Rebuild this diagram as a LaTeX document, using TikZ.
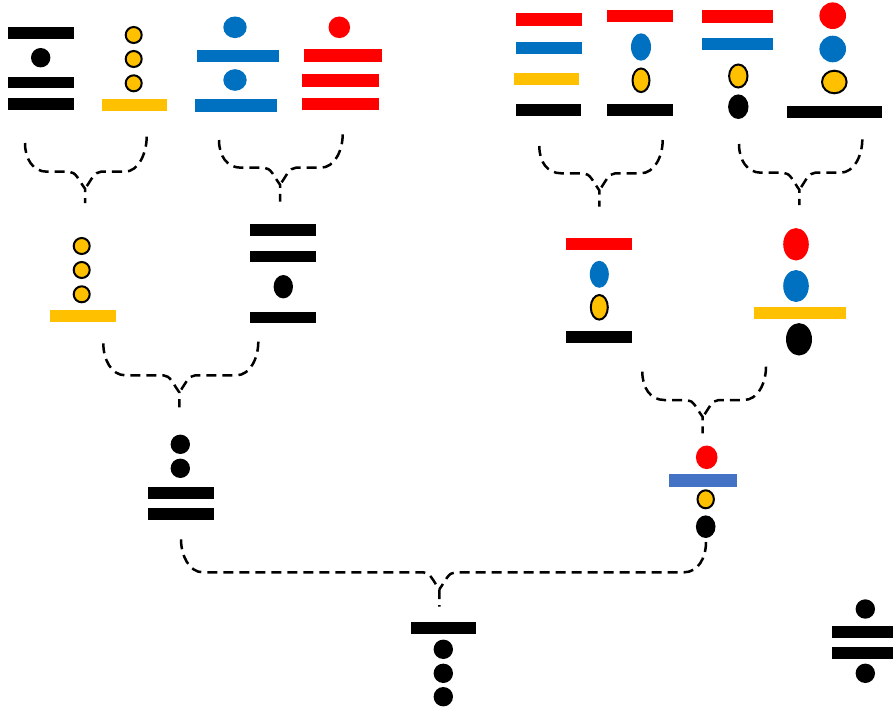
\documentclass[tikz,border=0pt]{standalone}
\usetikzlibrary{calc}
\definecolor{cred}{HTML}{FF0000}
\definecolor{cblue}{HTML}{0070C0}
\definecolor{cyel}{HTML}{FFC000}
\definecolor{clblue}{HTML}{4472C4}
\tikzset{
  ydot/.style={fill=cyel, draw=black, line width=2pt},
  conn/.style={draw=black, line width=2.5pt, dash pattern=on 10pt off 6pt},
}
% #1 left, #2 right, #3 child, #4 x left, #5 x right, #6 x tip, #7 y horizontal
\newcommand\brk[7]{%
  \draw[conn] (#1) .. controls +(0,16) and +(-14,0) .. (#4+22,#7) -- (#6-16,#7)
     .. controls +(7,0) and +(-6,-8) .. (#6,#7+17) -- (#3);
  \draw[conn] (#2) .. controls +(0,16) and +(14,0) .. (#5-22,#7) -- (#6+16,#7)
     .. controls +(-7,0) and +(6,-8) .. (#6,#7+17);
}
\begin{document}
\begin{tikzpicture}[x=1pt,y=-1pt]
\useasboundingbox (0,0) rectangle (893,709);
\clip (0,0) rectangle (893,709);
% ---------- level 1 ----------
% A
\fill (8,27) rectangle (74,39);
\fill (40.7,57.7) circle (9.7);
\fill (8,76.7) rectangle (74,88.3);
\fill (8,98.3) rectangle (74,110);
\coordinate (A-out) at (25,143);
% B
\filldraw[ydot] (133.7,35) circle (8);
\filldraw[ydot] (133.7,59) circle (8);
\filldraw[ydot] (133.7,83.3) circle (8);
\fill[cyel] (101.7,99.3) rectangle (166.7,111);
\coordinate (B-out) at (146.7,136.7);
% C
\fill[cblue] (235,27.3) ellipse (11.7 and 10.8);
\fill[cblue] (197.3,50) rectangle (279.3,62.3);
\fill[cblue] (235,80) ellipse (11.7 and 10.8);
\fill[cblue] (195,99.3) rectangle (276.7,111.7);
\coordinate (C-out) at (219,140);
% D
\fill[cred] (339.3,27.3) circle (10.8);
\fill[cred] (304,49.3) rectangle (381.7,62);
\fill[cred] (301.7,74.3) rectangle (379,86.7);
\fill[cred] (301.7,97.7) rectangle (379,110);
\coordinate (D-out) at (342.7,134.3);
% E
\fill[cred] (516,13.3) rectangle (581.7,25.7);
\fill[cblue] (516,42.3) rectangle (581.7,54.3);
\fill[cyel] (514,72.7) rectangle (579.3,85);
\fill (515.7,104) rectangle (581,116);
\coordinate (E-out) at (539.3,146);
% F
\fill[cred] (607.3,10) rectangle (672.7,22.3);
\fill[cblue] (641,47) ellipse (10 and 13.7);
\filldraw[ydot] (641,80.3) ellipse (8.5 and 11.8);
\fill (607.3,104) rectangle (672.7,116);
\coordinate (F-out) at (662.7,140);
% G
\fill[cred] (702,10) rectangle (773.3,22.7);
\fill[cblue] (702,37.7) rectangle (773.3,50);
\filldraw[ydot] (738.3,76) ellipse (9.2 and 11.5);
\fill (738.3,106.7) ellipse (10.2 and 12.3);
\coordinate (G-out) at (739,144);
% H
\fill[cred] (832.7,15.7) circle (13.3);
\fill[cblue] (832.7,49) circle (13.3);
\filldraw[ydot] (834.3,82) ellipse (12.3 and 11.3);
\fill (786.7,105.7) rectangle (881.7,117.7);
\coordinate (H-out) at (862.3,139.3);
% ---------- level 2 ----------
% I
\filldraw[ydot] (81.7,246) circle (8);
\filldraw[ydot] (81.7,270) circle (8);
\filldraw[ydot] (81.7,294.3) circle (8);
\fill[cyel] (50,310) rectangle (115.7,321.7);
\coordinate (I-in) at (85,203);
\coordinate (I-out) at (103.3,343.3);
% J
\fill (250,224) rectangle (315.7,235.7);
\fill (250,250.7) rectangle (315.7,262.3);
\fill (283.3,286.7) ellipse (9.7 and 11.7);
\fill (250,311.7) rectangle (315.7,323.3);
\coordinate (J-in) at (280,201.7);
\coordinate (J-out) at (258.3,341.7);
% L
\fill[cred] (566,237.7) rectangle (631.7,250);
\fill[cblue] (599.3,274.3) ellipse (9.5 and 13.5);
\filldraw[ydot] (599.3,307.3) ellipse (8.5 and 12.3);
\fill (566,331) rectangle (631.7,343.3);
\coordinate (L-in) at (599.3,206.7);
\coordinate (L-out) at (642.3,371.7);
% M
\fill[cred] (796,244.3) ellipse (12.8 and 16.2);
\fill[cblue] (796,286) ellipse (12.8 and 16);
\fill[cyel] (754,307.3) rectangle (845.7,319.3);
\fill (799,339.3) ellipse (13 and 16.2);
\coordinate (M-in) at (799.3,205);
\coordinate (M-out) at (766,366.7);
% ---------- level 3 ----------
% K
\fill (180.3,444.3) circle (9.7);
\fill (180.3,468.3) circle (9.7);
\fill (148.3,486.7) rectangle (214,499);
\fill (148.3,508.3) rectangle (214,520);
\coordinate (K-in) at (179.3,407.3);
\coordinate (K-out) at (181,539.3);
% P
\fill[cred] (706.7,457.3) ellipse (10.8 and 11.8);
\fill[clblue] (669.3,474.3) rectangle (737,486.7);
\filldraw[ydot] (705.7,499.3) ellipse (8.2 and 9);
\fill (705.7,526.7) ellipse (9.8 and 11.3);
\coordinate (P-in) at (702.7,433.3);
\coordinate (P-out) at (706,542);
% ---------- level 4 ----------
% N
\fill (410.7,621.7) rectangle (476,634.3);
\fill (443.3,649.3) circle (9.7);
\fill (443.3,673.3) circle (9.7);
\fill (443.3,696.7) circle (9.7);
\coordinate (N-in) at (439.3,606.7);
% O (divide sign)
\fill (865.3,609) circle (9.7);
\fill (831.7,626) rectangle (899,637.7);
\fill (831.7,647.3) rectangle (899,659);
\fill (865.3,673.3) circle (9.7);
% ---------- connectors ----------
\brk{A-out}{B-out}{I-in}{25}{146.7}{85}{171.7}
\brk{C-out}{D-out}{J-in}{219}{342.7}{280}{167.7}
\brk{E-out}{F-out}{L-in}{539.3}{662.7}{599.3}{173.3}
\brk{G-out}{H-out}{M-in}{739}{862.3}{799.3}{172.7}
\brk{I-out}{J-out}{K-in}{103.3}{258.3}{179.3}{375.3}
\brk{L-out}{M-out}{P-in}{642.3}{766}{702.7}{400}
\brk{K-out}{P-out}{N-in}{181}{706}{439.3}{572.3}
\end{tikzpicture}
\end{document}
